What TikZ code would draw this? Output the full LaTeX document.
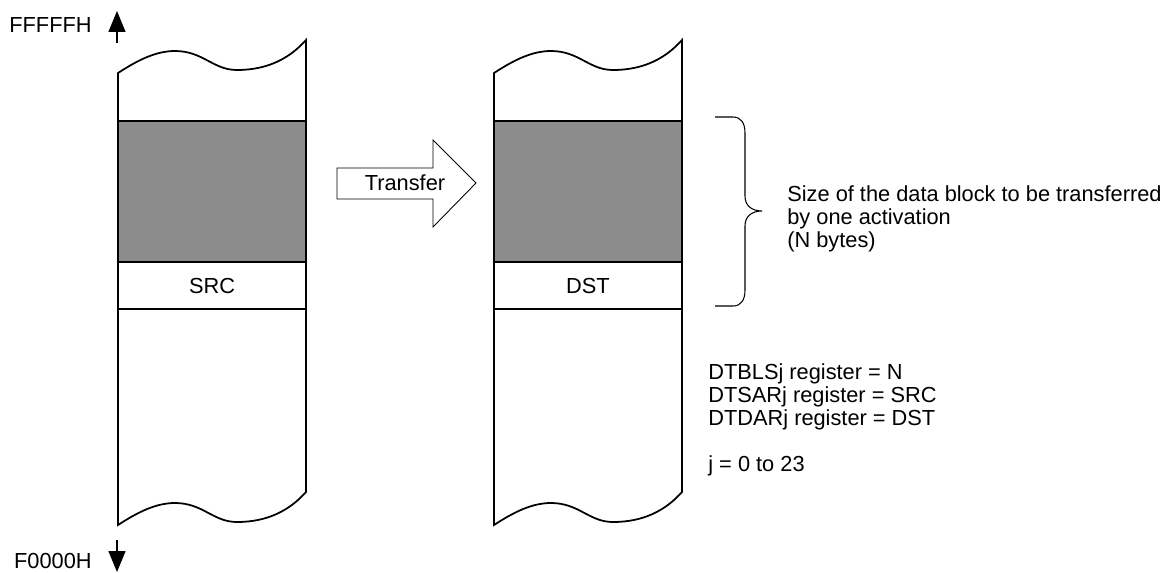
\documentclass[tikz,border=0pt]{standalone}
\usepackage{fontspec}
\setmainfont{Liberation Sans}
\usetikzlibrary{arrows.meta}
\definecolor{blockgray}{RGB}{140,140,140}

\begin{document}
\begin{tikzpicture}[
  x=0.02cm, y=-0.02cm,
  mem/.style={draw, line width=1pt},
  blk/.style={draw, line width=1pt, fill=blockgray},
  lbl/.style={font=\fontsize{12.4}{13.2}\selectfont, inner sep=0pt},
  addr/.style={line width=0.8pt, -{Triangle[length=0.42cm, width=0.34cm]}},
  thin/.style={draw, line width=0.6pt}
]
\useasboundingbox (0,0) rectangle (1167,572);

% memory columns
\foreach \x/\name/\txt in {118/src/SRC, 494/dst/DST} {
  \draw[mem] (\x,73) .. controls (\x+20,60) and (\x+38,51) .. (\x+57,51)
    .. controls (\x+85,51) and (\x+95,70) .. (\x+119,70)
    .. controls (\x+150,70) and (\x+172,58) .. (\x+188,40)
    -- (\x+188,492)
    .. controls (\x+172,510) and (\x+150,522) .. (\x+119,522)
    .. controls (\x+95,522) and (\x+85,503) .. (\x+57,503)
    .. controls (\x+38,503) and (\x+20,512) .. (\x,525) -- cycle;
  \draw[blk] (\x,121) rectangle (\x+188,262);
  \draw[mem] (\x,309) -- (\x+188,309);
  \node[lbl] (\name) at (\x+94,285.5) {\txt};
}

% address range
\node[lbl, anchor=base east] (top) at (92,32) {FFFFFH};
\node[lbl, anchor=base east] (bottom) at (92,568) {F0000H};
\coordinate (upfrom) at (117,43);
\coordinate (upto) at (117,11);
\coordinate (downfrom) at (117,540);
\coordinate (downto) at (117,572);
\draw[addr] (upfrom) -- (upto);
\draw[addr] (downfrom) -- (downto);

% transfer arrow
\draw[thin, line width=0.5pt] (337,168) -- (433,168) -- (433,140) -- (476,183)
  -- (433,227) -- (433,199) -- (337,199) -- cycle;
\node[lbl] (xfer) at (405,183) {Transfer};

% brace and notes
\coordinate (bracetop) at (715,117);
\coordinate (bracebot) at (715,306);
\coordinate (bracetip) at (762,211);
\draw[thin] (bracetop) -- (733,117) .. controls (741,117) and (745,123) .. (745,133)
  -- (745,196) .. controls (745,205) and (751,211) .. (bracetip)
  .. controls (751,211) and (745,217) .. (745,226)
  -- (745,290) .. controls (745,300) and (741,306) .. (733,306) -- (bracebot);
\node[lbl, anchor=north west, align=left] (note) at (787,185)
  {Size of the data block to be transferred\\by one activation\\(N bytes)};
\node[lbl, anchor=north west, align=left] (regs) at (708,363)
  {DTBLSj register = N\\DTSARj register = SRC\\DTDARj register = DST\\[13.2pt]j = 0 to 23};
\end{tikzpicture}
\end{document}
